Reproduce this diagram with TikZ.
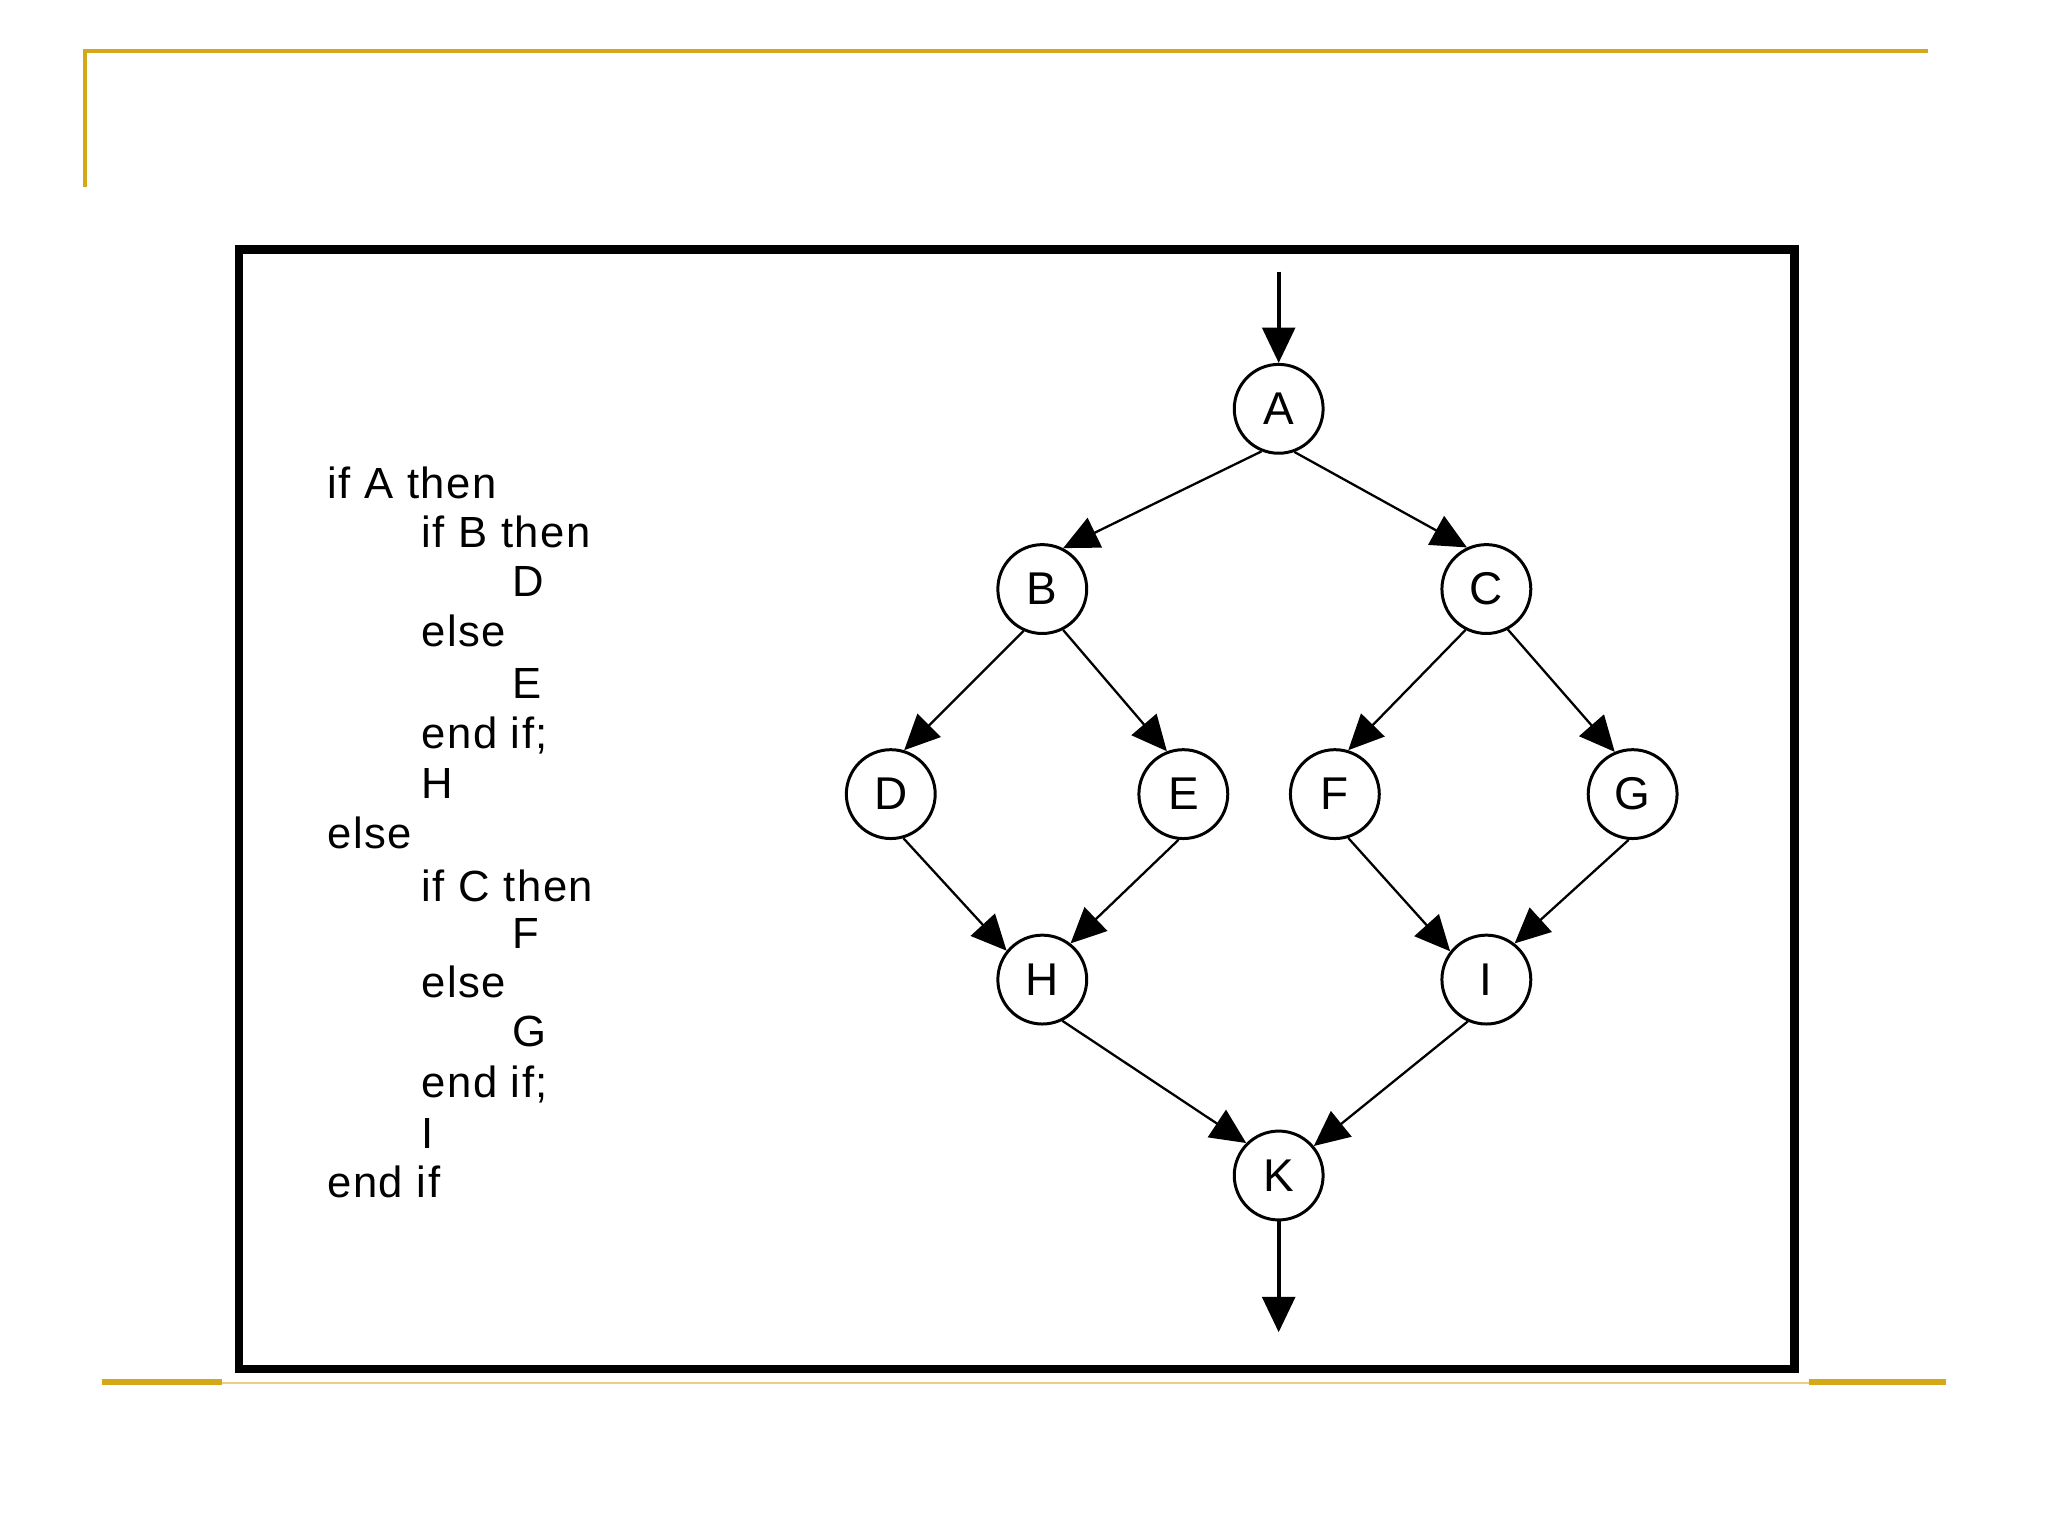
\documentclass[tikz,border=0pt]{standalone}
\usepackage{fontspec}
\setmainfont{Liberation Sans}
\newfontfamily\codefont[LetterSpace=3.5]{Liberation Sans}
\usetikzlibrary{arrows.meta}
\definecolor{gold}{RGB}{212,168,22}
\definecolor{palegold}{RGB}{232,208,130}
\begin{document}
\begin{tikzpicture}[x=0.01cm,y=-0.01cm,
  st/.style={circle,draw,line width=0.65pt,minimum size=0.68cm,inner sep=0pt,font=\fontsize{10}{12}\selectfont},
  flow/.style={line width=0.5pt,-{Triangle[length=0.27cm,width=0.25cm]}},
  bigflow/.style={line width=0.8pt,-{Triangle[length=0.27cm,width=0.25cm]}},
  code/.style={anchor=west,inner sep=0pt,font=\codefont\fontsize{9.5}{11}\selectfont}]
\useasboundingbox (0,0) rectangle (1568,1176);
% gold lines
\draw[gold,line width=0.9pt] (65,143) -- (65,39) -- (1476,39);
\draw[palegold,line width=0.5pt] (78,1059) -- (1490,1059);
\draw[gold,line width=1.2pt] (78,1058) -- (170,1058);
\draw[gold,line width=1.2pt] (1385,1058) -- (1490,1058);
% box
\draw[line width=1.8pt] (183,191) rectangle (1374,1048);
% code
\node[code] (c1) at (250,370) {if A then};
\node[code] (c2) at (322,407) {if B then};
\node[code] (c3) at (392,445) {D};
\node[code] (c4) at (322,483) {else};
\node[code] (c5) at (392,523) {E};
\node[code] (c6) at (322,563) {end if;};
\node[code] (c7) at (322,600) {H};
\node[code] (c8) at (250,638) {else};
\node[code] (c9) at (322,678) {if C then};
\node[code] (c10) at (392,715) {F};
\node[code] (c11) at (322,752) {else};
\node[code] (c12) at (392,790) {G};
\node[code] (c13) at (322,830) {end if;};
\node[code] (c14) at (322,868) {I};
\node[code] (c15) at (250,905) {end if};
% graph
\node[st] (A) at (979,313) {A};
\node[st] (B) at (798,451) {B};
\node[st] (C) at (1138,451) {C};
\node[st] (D) at (682,608) {D};
\node[st] (E) at (906,608) {E};
\node[st] (F) at (1022,608) {F};
\node[st] (G) at (1250,608) {G};
\node[st] (H) at (798,750) {H};
\node[st] (I) at (1138,750) {I};
\node[st] (K) at (979,900) {K};
\coordinate (in) at (979,208);
\coordinate (out) at (979,1020);
\draw[bigflow] (in) -- (A.north);
\draw[flow] (A.248) -- (B.63);
\draw[flow] (A.290) -- (C.115);
\draw[flow] (B.246) -- (D.73);
\draw[flow] (B.297) -- (E.111);
\draw[flow] (C.243) -- (F.73);
\draw[flow] (C.298) -- (G.113);
\draw[flow] (D.286) -- (H.141);
\draw[flow] (E.264) -- (H.52);
\draw[flow] (F.287) -- (I.142);
\draw[flow] (G.265) -- (I.52);
\draw[flow] (H.296) -- (K.135);
\draw[flow] (I.246) -- (K.40);
\draw[bigflow] (K.south) -- (out);
\end{tikzpicture}
\end{document}
